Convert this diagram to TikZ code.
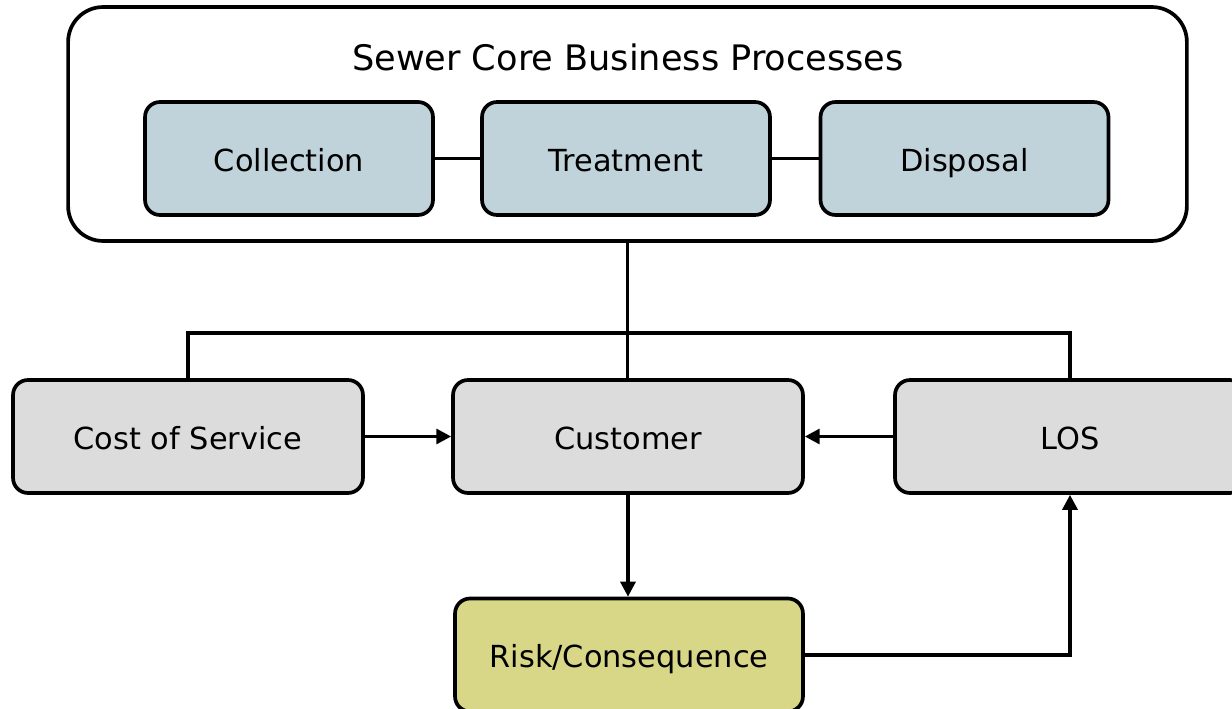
\documentclass[tikz,border=0pt]{standalone}
\usepackage{fontspec}
\setmainfont{DejaVu Sans}
\usepackage{tikz}
\usetikzlibrary{positioning,arrows.meta}
\definecolor{procblue}{RGB}{193,211,218}
\definecolor{boxgray}{RGB}{220,220,220}
\definecolor{riskyellow}{RGB}{216,215,135}
\begin{document}
\begin{tikzpicture}[x=0.02cm,y=-0.02cm,
  proc/.style={draw,line width=2.1pt,rounded corners=0.3cm,fill=procblue,
    minimum width=5.76cm,minimum height=2.26cm,text height=15.5pt,text depth=1pt,
    font=\fontsize{17.3}{20}\selectfont},
  part/.style={proc,fill=boxgray,minimum width=7cm},
  link/.style={line width=1.9pt},
  flow/.style={line width=1.9pt,-{Triangle[length=8.5pt,width=8.5pt]}}]
\useasboundingbox (0,0) rectangle (1232,709);
% core processes
\node[draw,line width=2.1pt,rounded corners=0.7cm,minimum width=22.38cm,
  minimum height=4.68cm] (core) at (627.5,124) {};
\node[font=\fontsize{20}{24}\selectfont] (title) at (628,57) {Sewer Core Business Processes};
\node[proc] (coll) at (289,158.5) {Collection};
\node[proc] (treat) at (626,158.5) {Treatment};
\node[proc] (disp) at (964.5,158.5) {Disposal};
\draw[link] (coll) -- (treat);
\draw[link] (treat) -- (disp);
% lower row
\node[part] (cos) at (188,436.5) {Cost of Service};
\node[part] (cust) at (628,436.5) {Customer};
\node[part] (los) at (1070,436.5) {LOS};
\node[part,fill=riskyellow,minimum width=6.96cm] (risk) at (629,655) {Risk/Consequence};
\coordinate (bus) at (628,333);
\draw[link] (core.south) -- (core.south |- cust.north);
\draw[link] (cos.north) -- (cos.north |- bus) -- (los.north |- bus) -- (los.north);
\draw[flow] (cos) -- (cust);
\draw[flow] (los) -- (cust);
\draw[flow] (cust.south) -- (cust.south |- risk.north);
\draw[flow] (risk.east) -| (los.south);
\end{tikzpicture}
\end{document}
